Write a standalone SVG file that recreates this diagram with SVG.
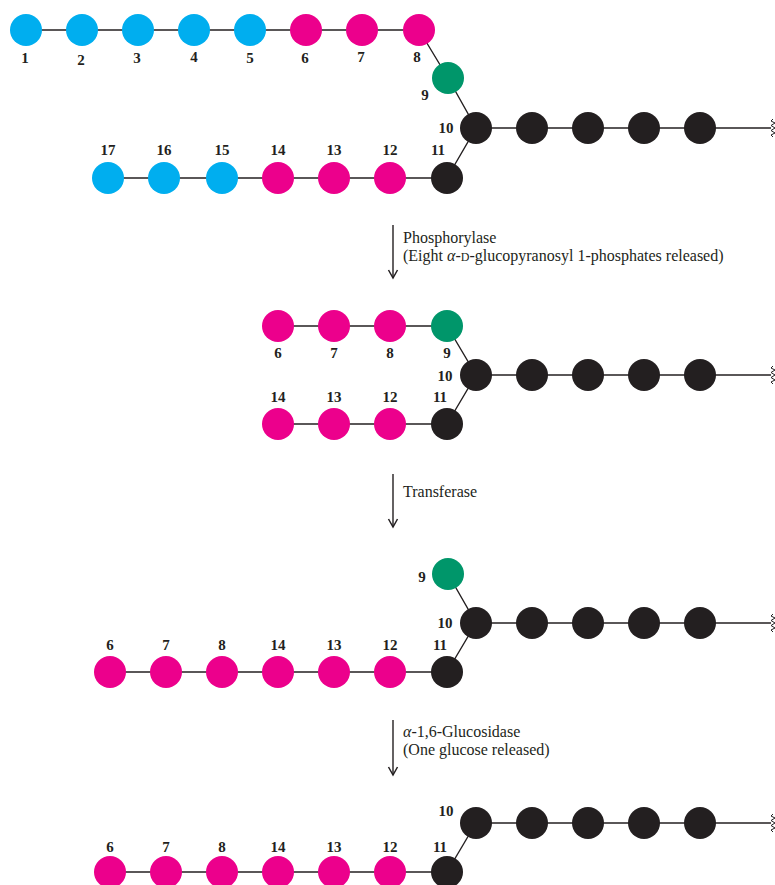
<svg xmlns="http://www.w3.org/2000/svg" width="775" height="885" viewBox="0 0 775 885">
<style>
.c{fill:#00AEEF}.m{fill:#EC008C}.g{fill:#00966A}.k{fill:#231F20}
.ln{stroke:#231F20;stroke-width:1.4;fill:none}
.lb{font-family:"Liberation Serif","Times New Roman",serif;font-weight:bold;font-size:15px;fill:#231F20;text-anchor:middle}
.tx{font-family:"Liberation Serif","Times New Roman",serif;font-size:16px;fill:#231F20}
.wv{stroke:#231F20;stroke-width:1;fill:none}
</style>
<defs>
<marker id="ah" markerWidth="12" markerHeight="12" refX="6" refY="10" orient="0" markerUnits="userSpaceOnUse" viewBox="0 0 12 12">
<path d="M1.5,2 L6,10 L10.5,2" stroke="#231F20" stroke-width="1.5" fill="none"/>
</marker>
</defs>
<g id="connectors">
<line class="ln" x1="26" y1="30" x2="419" y2="30"/>
<polyline class="ln" points="419,30 448,78 476,128 447,178"/>
<line class="ln" x1="108" y1="178" x2="447" y2="178"/>
<line class="ln" x1="476" y1="128" x2="771" y2="128"/>
<polyline class="wv" points="773,119 771,121 775,123 771,125.5 775,128 771,130.5 775,133 771,135 773,137"/>
<line class="ln" x1="278" y1="326" x2="447" y2="326"/>
<polyline class="ln" points="447,326 476,375 447,424"/>
<line class="ln" x1="278" y1="424" x2="447" y2="424"/>
<line class="ln" x1="476" y1="375" x2="771" y2="375"/>
<polyline class="wv" points="773,366 771,368 775,370 771,372.5 775,375 771,377.5 775,380 771,382 773,384"/>
<polyline class="ln" points="448,574 476,623 447,672"/>
<line class="ln" x1="110" y1="672" x2="447" y2="672"/>
<line class="ln" x1="476" y1="623" x2="771" y2="623"/>
<polyline class="wv" points="773,614 771,616 775,618 771,620.5 775,623 771,625.5 775,628 771,630 773,632"/>
<line class="ln" x1="476" y1="823" x2="447" y2="872"/>
<line class="ln" x1="110" y1="872" x2="447" y2="872"/>
<line class="ln" x1="476" y1="823" x2="771" y2="823"/>
<polyline class="wv" points="773,814 771,816 775,818 771,820.5 775,823 771,825.5 775,828 771,830 773,832"/>
<line class="ln" x1="393" y1="225" x2="393" y2="278" marker-end="url(#ah)"/>
<line class="ln" x1="393" y1="474" x2="393" y2="527" marker-end="url(#ah)"/>
<line class="ln" x1="393" y1="720" x2="393" y2="775" marker-end="url(#ah)"/>
</g>
<g id="section1">
<g id="s1-n1"><circle class="c" cx="26" cy="30" r="16"/><text class="lb" x="25" y="63">1</text></g>
<g id="s1-n2"><circle class="c" cx="82" cy="30" r="16"/><text class="lb" x="81" y="65">2</text></g>
<g id="s1-n3"><circle class="c" cx="138" cy="30" r="16"/><text class="lb" x="137" y="63">3</text></g>
<g id="s1-n4"><circle class="c" cx="194" cy="30" r="16"/><text class="lb" x="194" y="62">4</text></g>
<g id="s1-n5"><circle class="c" cx="250" cy="30" r="16"/><text class="lb" x="250" y="63">5</text></g>
<g id="s1-n6"><circle class="m" cx="306" cy="30" r="16"/><text class="lb" x="305" y="63">6</text></g>
<g id="s1-n7"><circle class="m" cx="362" cy="30" r="16"/><text class="lb" x="361" y="62">7</text></g>
<g id="s1-n8"><circle class="m" cx="419" cy="30" r="16"/><text class="lb" x="417" y="62">8</text></g>
<g id="s1-n9"><circle class="g" cx="448" cy="78" r="16"/><text class="lb" x="425" y="100">9</text></g>
<g id="s1-n10"><circle class="k" cx="476" cy="128" r="16"/><text class="lb" x="446" y="133">10</text></g>
<g id="s1-n11"><circle class="k" cx="447" cy="178" r="16"/><text class="lb" x="438" y="155">11</text></g>
<g id="s1-n12"><circle class="m" cx="390" cy="178" r="16"/><text class="lb" x="390" y="155">12</text></g>
<g id="s1-n13"><circle class="m" cx="334" cy="178" r="16"/><text class="lb" x="334" y="155">13</text></g>
<g id="s1-n14"><circle class="m" cx="278" cy="178" r="16"/><text class="lb" x="278" y="155">14</text></g>
<g id="s1-n15"><circle class="c" cx="222" cy="178" r="16"/><text class="lb" x="222" y="155">15</text></g>
<g id="s1-n16"><circle class="c" cx="164" cy="178" r="16"/><text class="lb" x="164" y="155">16</text></g>
<g id="s1-n17"><circle class="c" cx="108" cy="178" r="16"/><text class="lb" x="108" y="155">17</text></g>
<g id="s1-chain"><circle class="k" cx="532" cy="128" r="16"/><circle class="k" cx="588" cy="128" r="16"/><circle class="k" cx="644" cy="128" r="16"/><circle class="k" cx="700" cy="128" r="16"/></g>
</g>
<g id="step1-label"><text class="tx" x="403" y="243">Phosphorylase</text><text class="tx" x="403" y="261">(Eight <tspan font-style="italic">α</tspan>-<tspan font-size="12">D</tspan>-glucopyranosyl 1-phosphates released)</text></g>
<g id="section2">
<g id="s2-n6"><circle class="m" cx="278" cy="326" r="16"/><text class="lb" x="278" y="358">6</text></g>
<g id="s2-n7"><circle class="m" cx="334" cy="326" r="16"/><text class="lb" x="334" y="358">7</text></g>
<g id="s2-n8"><circle class="m" cx="390" cy="326" r="16"/><text class="lb" x="390" y="358">8</text></g>
<g id="s2-n9"><circle class="g" cx="447" cy="326" r="16"/><text class="lb" x="447" y="358">9</text></g>
<g id="s2-n10"><circle class="k" cx="476" cy="375" r="16"/><text class="lb" x="445" y="381">10</text></g>
<g id="s2-n11"><circle class="k" cx="447" cy="424" r="16"/><text class="lb" x="440" y="402">11</text></g>
<g id="s2-n12"><circle class="m" cx="390" cy="424" r="16"/><text class="lb" x="390" y="402">12</text></g>
<g id="s2-n13"><circle class="m" cx="334" cy="424" r="16"/><text class="lb" x="334" y="402">13</text></g>
<g id="s2-n14"><circle class="m" cx="278" cy="424" r="16"/><text class="lb" x="278" y="402">14</text></g>
<g id="s2-chain"><circle class="k" cx="532" cy="375" r="16"/><circle class="k" cx="588" cy="375" r="16"/><circle class="k" cx="644" cy="375" r="16"/><circle class="k" cx="700" cy="375" r="16"/></g>
</g>
<g id="step2-label"><text class="tx" x="403" y="497">Transferase</text></g>
<g id="section3">
<g id="s3-n9"><circle class="g" cx="448" cy="574" r="16"/><text class="lb" x="422" y="582">9</text></g>
<g id="s3-n10"><circle class="k" cx="476" cy="623" r="16"/><text class="lb" x="445" y="628">10</text></g>
<g id="s3-n11"><circle class="k" cx="447" cy="672" r="16"/><text class="lb" x="440" y="650">11</text></g>
<g id="s3-n12"><circle class="m" cx="390" cy="672" r="16"/><text class="lb" x="390" y="650">12</text></g>
<g id="s3-n13"><circle class="m" cx="334" cy="672" r="16"/><text class="lb" x="334" y="650">13</text></g>
<g id="s3-n14"><circle class="m" cx="278" cy="672" r="16"/><text class="lb" x="278" y="650">14</text></g>
<g id="s3-n8"><circle class="m" cx="222" cy="672" r="16"/><text class="lb" x="222" y="650">8</text></g>
<g id="s3-n7"><circle class="m" cx="166" cy="672" r="16"/><text class="lb" x="166" y="650">7</text></g>
<g id="s3-n6"><circle class="m" cx="110" cy="672" r="16"/><text class="lb" x="110" y="650">6</text></g>
<g id="s3-chain"><circle class="k" cx="532" cy="623" r="16"/><circle class="k" cx="588" cy="623" r="16"/><circle class="k" cx="644" cy="623" r="16"/><circle class="k" cx="700" cy="623" r="16"/></g>
</g>
<g id="step3-label"><text class="tx" x="403" y="737"><tspan font-style="italic">α</tspan>-1,6-Glucosidase</text><text class="tx" x="403" y="755">(One glucose released)</text></g>
<g id="section4">
<g id="s4-n10"><circle class="k" cx="476" cy="823" r="16"/><text class="lb" x="446" y="816">10</text></g>
<g id="s4-n11"><circle class="k" cx="447" cy="872" r="16"/><text class="lb" x="440" y="852">11</text></g>
<g id="s4-n12"><circle class="m" cx="390" cy="872" r="16"/><text class="lb" x="390" y="852">12</text></g>
<g id="s4-n13"><circle class="m" cx="334" cy="872" r="16"/><text class="lb" x="334" y="852">13</text></g>
<g id="s4-n14"><circle class="m" cx="278" cy="872" r="16"/><text class="lb" x="278" y="852">14</text></g>
<g id="s4-n8"><circle class="m" cx="222" cy="872" r="16"/><text class="lb" x="222" y="852">8</text></g>
<g id="s4-n7"><circle class="m" cx="166" cy="872" r="16"/><text class="lb" x="166" y="852">7</text></g>
<g id="s4-n6"><circle class="m" cx="110" cy="872" r="16"/><text class="lb" x="110" y="852">6</text></g>
<g id="s4-chain"><circle class="k" cx="532" cy="823" r="16"/><circle class="k" cx="588" cy="823" r="16"/><circle class="k" cx="644" cy="823" r="16"/><circle class="k" cx="700" cy="823" r="16"/></g>
</g>
</svg>
